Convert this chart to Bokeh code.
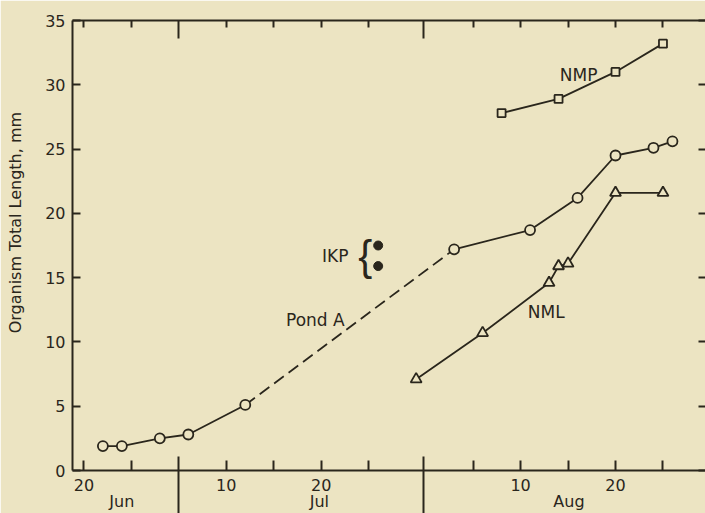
from bokeh.plotting import figure
from bokeh.models import (Range1d, LinearAxis, FixedTicker, Label)
from bokeh.embed import file_html
from bokeh.resources import INLINE

# x unit: day on the Jul-Aug scale (Jul 1 = 1, Aug 1 = 32)
pond_x = [-3, -1, 3, 6, 12, 34, 42, 47, 51, 55, 57]
pond_y = [1.9, 1.9, 2.5, 2.8, 5.1, 17.2, 18.7, 21.2, 24.5, 25.1, 25.6]
nml_x = [30, 37, 44, 45, 46, 51, 56]
nml_y = [7.1, 10.7, 14.6, 15.9, 16.1, 21.6, 21.6]
nmp_x = [39, 45, 51, 56]
nmp_y = [27.8, 28.9, 31.0, 33.2]
ikp_x = [26, 26]
ikp_y = [17.5, 15.9]

x_ticks = [-5, 0, 10, 15, 20, 25, 36, 41, 46, 51, 56]
x_tick_labels = {-5: "20", 10: "10", 20: "20", 41: "10", 51: "20"}
month_boundaries = [5, 30.75]
months = ["Jun", "Jul", "Aug"]
month_pos = [-1.0, 19.8, 46.1]
y_ticks = [0, 5, 10, 15, 20, 25, 30, 35]
y_title = "Organism Total Length, mm"

BG = "#ece4c2"
INK = "#2a261c"
FONT = "DejaVu Sans"

p = figure(width=705, height=513, output_backend="svg", toolbar_location=None,
           x_range=Range1d(-6.2, 60.48), y_range=Range1d(0, 35),
           min_border_left=72, min_border_right=0, min_border_top=20,
           min_border_bottom=42, background_fill_color=BG, border_fill_color=BG)
p.outline_line_color = None
p.xgrid.visible = False
p.ygrid.visible = False

def style_axis(ax, tick_in, show_labels=True):
    ax.axis_line_color = INK
    ax.axis_line_width = 2
    ax.major_tick_line_color = INK
    ax.major_tick_line_width = 2
    ax.major_tick_in = tick_in
    ax.major_tick_out = 0
    ax.minor_tick_line_color = INK
    ax.minor_tick_line_width = 2
    ax.minor_tick_out = 0
    ax.major_label_text_font = FONT
    ax.major_label_text_font_size = "16px" if show_labels else "0px"
    ax.major_label_text_color = INK if show_labels else None

# bottom axis: short ticks with day numbers
bx = p.xaxis[0]
bx.ticker = FixedTicker(ticks=x_ticks)
bx.major_label_overrides = {t: x_tick_labels.get(t, "") for t in x_ticks}
style_axis(bx, 10)
bx.minor_tick_line_color = None
bx.major_label_standoff = 8

# month names axis
mx = LinearAxis(ticker=FixedTicker(ticks=month_pos))
mx.major_label_overrides = dict(zip(month_pos, months))
mx.axis_line_color = None
mx.major_tick_line_color = None
mx.minor_tick_line_color = None
mx.major_tick_in = 0
mx.major_tick_out = 0
mx.major_label_standoff = -2
mx.major_label_text_font = FONT
mx.major_label_text_font_size = "16px"
mx.major_label_text_color = INK
p.add_layout(mx, "below")

# month-boundary long ticks, drawn upward from the bottom edge
bx2 = LinearAxis(ticker=FixedTicker(ticks=month_boundaries))
style_axis(bx2, 57, False)
bx2.axis_line_color = None
bx2.minor_tick_line_color = None
bx2.major_label_standoff = 0
p.add_layout(bx2, "below")

ly = p.yaxis[0]
ly.ticker = FixedTicker(ticks=y_ticks)
style_axis(ly, 8)
ly.major_label_standoff = 7
ly.axis_label = "\u00a0" * 9 + y_title
ly.axis_label_text_font = FONT
ly.axis_label_text_font_size = "16px"
ly.axis_label_text_font_style = "normal"
ly.axis_label_text_color = INK
ly.axis_label_standoff = 17

top = LinearAxis(ticker=FixedTicker(ticks=x_ticks, minor_ticks=month_boundaries))
style_axis(top, 7, False)
top.minor_tick_in = 18
top.major_label_standoff = 0
p.add_layout(top, "above")

right = LinearAxis(ticker=FixedTicker(ticks=y_ticks))
style_axis(right, 7, False)
right.axis_line_color = None
right.minor_tick_line_color = None
right.major_label_standoff = 0
p.add_layout(right, "right")

LW = 1.8
# Pond A
p.line(pond_x[:5], pond_y[:5], line_color=INK, line_width=LW)
p.line(pond_x[4:6], pond_y[4:6], line_color=INK, line_width=LW, line_dash="12 6")
p.line(pond_x[5:], pond_y[5:], line_color=INK, line_width=LW)
p.scatter(pond_x, pond_y, marker="circle", size=10, line_color=INK, line_width=LW, fill_color=BG)
# NML
p.line(nml_x, nml_y, line_color=INK, line_width=LW)
p.scatter(nml_x, nml_y, marker="triangle", size=11, line_color=INK, line_width=LW, fill_color=BG)
# NMP
p.line(nmp_x, nmp_y, line_color=INK, line_width=LW)
p.scatter(nmp_x, nmp_y, marker="square", size=8, line_color=INK, line_width=LW, fill_color=BG)
# IKP
p.scatter(ikp_x, ikp_y, marker="circle", size=9, line_color=INK, fill_color=INK)

for txt, tx, ty in [("NMP", 47.11, 30.73), ("NML", 43.71, 12.36), ("Pond A", 19.38, 11.72),
                    ("IKP", 21.48, 16.71)]:
    p.add_layout(Label(x=tx, y=ty, text=txt, text_align="center", text_baseline="middle",
                       text_font=FONT, text_font_size="17px", text_color=INK))
p.add_layout(Label(x=24.64, y=16.71, text="{", text_align="center", text_baseline="middle",
                   text_font="Liberation Sans", text_font_size="42px", text_color=INK))

open("out.html", "w").write(file_html(p, INLINE))
